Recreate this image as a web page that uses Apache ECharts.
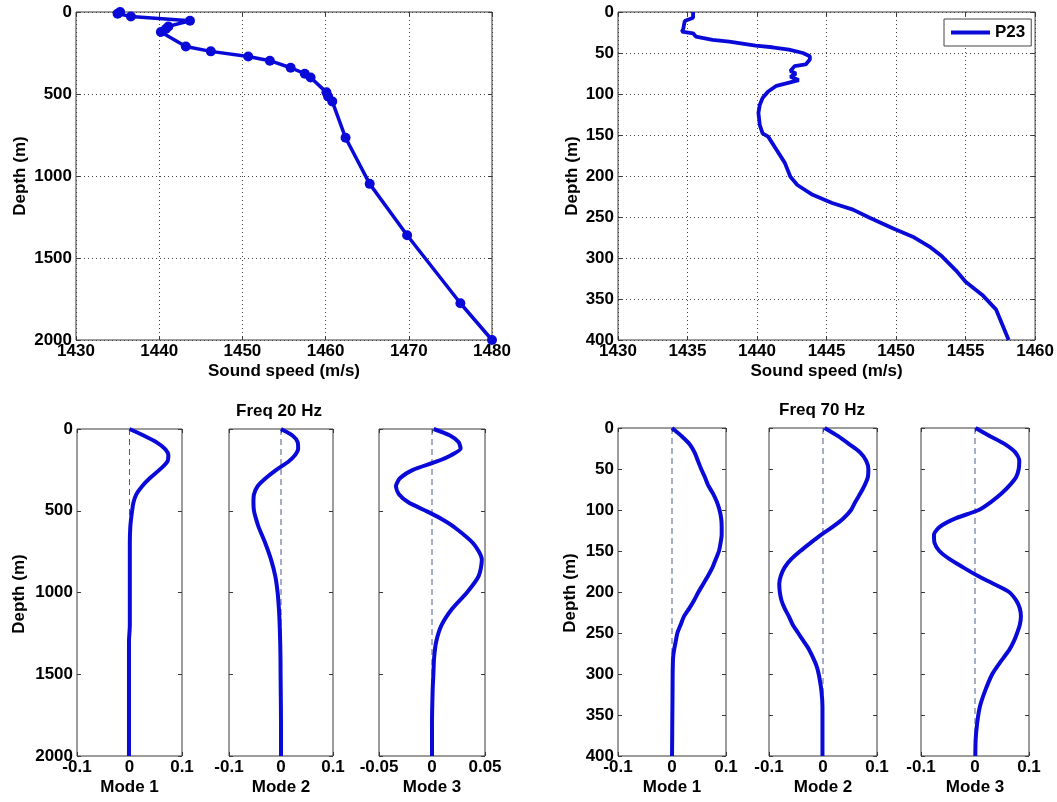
<!DOCTYPE html>
<html>
<head>
<meta charset="utf-8">
<script src="https://cdn.jsdelivr.net/npm/echarts@6/dist/echarts.min.js"></script>
<style>
  html, body { margin: 0; padding: 0; background: #fff; }
  #chart { width: 1057px; height: 802px; }
</style>
</head>
<body>
<div id="chart"></div>
<script>
// CTD sound-speed profile (full depth, with sample points)
const ctdSpeed = [1435.3, 1435.0, 1436.6, 1443.7, 1441.1, 1440.8, 1440.2, 1443.2, 1446.2, 1450.7, 1453.3,
  1455.8, 1457.5, 1458.2, 1460.1, 1460.3, 1460.8, 1462.4, 1465.3, 1469.8, 1476.2, 1480.0];
const ctdDepth = [0, 10, 27, 53, 88, 104, 122, 210, 240, 271, 297,
  340, 376, 399, 490, 515, 545, 767, 1048, 1361, 1776, 2000];

// Station P23 upper-ocean profile
const p23Speed = [1435.4, 1435.4, 1434.8, 1434.7, 1434.6, 1435.4, 1435.6, 1436.8, 1438.0, 1439.9,
  1441.1, 1442.3, 1443.3, 1443.8, 1443.8, 1443.5, 1442.7, 1442.4, 1442.8, 1442.4,
  1443.0, 1442.1, 1441.4, 1440.8, 1440.4, 1440.2, 1440.1, 1440.2, 1440.4, 1440.8,
  1441.4, 1442.0, 1442.4, 1442.9, 1444.0, 1445.4, 1446.9, 1448.1, 1449.8, 1451.2,
  1452.4, 1453.3, 1454.3, 1455.0, 1456.2, 1457.2, 1458.1];
const p23Depth = [0, 7, 11, 20, 24, 26, 30, 34, 36, 41,
  43, 46, 50, 54, 58, 64, 66, 72, 75, 79,
  83, 87, 90, 97, 105, 113, 123, 138, 148, 152,
  168, 184, 201, 211, 223, 233, 241, 251, 264, 274,
  286, 298, 315, 329, 345, 363, 400];

// Normal modes at 20 Hz
const depth20 = [0, 40, 80, 120, 160, 200, 250, 300, 350, 400, 450, 500, 550, 600, 700, 800, 900, 1000,
  1100, 1200, 1300, 1400, 1500, 1600, 1800, 2000];
const mode20_1 = [0, 0.027, 0.051, 0.067, 0.074, 0.072, 0.057, 0.039, 0.024, 0.013, 0.0075, 0.005, 0.003, 0.0015, 0.0006, 0.0006, 0.0006, 0.0006,
  0.0006, 0.0006, -0.001, -0.001, -0.001, -0.001, -0.001, -0.001];
const mode20_2 = [0, 0.022, 0.032, 0.033, 0.027, 0.014, -0.009, -0.029, -0.045, -0.052, -0.053, -0.052, -0.048, -0.043, -0.030, -0.019, -0.011, -0.0065,
  -0.004, -0.0025, -0.0016, -0.001, -0.0008, -0.0005, 0, 0];
const mode20_3 = [0.0016, 0.017, 0.025, 0.027, 0.018, 0.004, -0.018, -0.030, -0.034, -0.031, -0.022, -0.006, 0.009, 0.021, 0.039, 0.047, 0.044, 0.033,
  0.019, 0.009, 0.004, 0.002, 0.0013, 0.0006, 0, 0];

// Normal modes at 70 Hz
const depth70 = [0, 10, 20, 30, 40, 50, 60, 70, 80, 90, 100, 110, 120, 130, 140, 150, 160, 170, 180, 190, 200,
  210, 220, 230, 240, 250, 260, 270, 280, 290, 300, 320, 340, 360, 380, 400];
const mode70_1 = [0, 0.018, 0.033, 0.042, 0.048, 0.054, 0.061, 0.067, 0.076, 0.083, 0.088,
  0.091, 0.092, 0.092, 0.090, 0.087, 0.081, 0.075, 0.067, 0.058, 0.049,
  0.041, 0.032, 0.022, 0.016, 0.010, 0.007, 0.004, 0.002, 0.0015, 0.0012,
  0.001, 0.0008, 0.0005, 0.0003, 0];
const mode70_2 = [0.003, 0.028, 0.049, 0.069, 0.080, 0.084, 0.083, 0.077, 0.069, 0.060, 0.052,
  0.038, 0.019, -0.003, -0.023, -0.042, -0.059, -0.071, -0.078, -0.081, -0.080,
  -0.077, -0.071, -0.063, -0.056, -0.046, -0.036, -0.026, -0.0185, -0.012, -0.008,
  -0.003, -0.001, -0.001, -0.001, -0.001];
const mode70_3 = [0.001, 0.028, 0.056, 0.075, 0.082, 0.081, 0.076, 0.064, 0.049, 0.030, 0.007,
  -0.035, -0.064, -0.076, -0.075, -0.066, -0.047, -0.022, 0.004, 0.034, 0.063,
  0.076, 0.083, 0.085, 0.083, 0.078, 0.072, 0.064, 0.053, 0.042, 0.032,
  0.019, 0.009, 0.004, 0.0012, 0.0006];

// Tick settings
const speedTicksFull = { min: 1430, max: 1480, interval: 10 };
const speedTicksUpper = { min: 1430, max: 1460, interval: 5 };
const depthTicksFull = { min: 0, max: 2000, interval: 500 };
const depthTicksUpper = { min: 0, max: 400, interval: 50 };
const ampTicks = { min: -0.1, max: 0.1, interval: 0.1 };
const ampTicksNarrow = { min: -0.05, max: 0.05, interval: 0.05 };

const BLUE = '#0a0ad8';
const FRAME = '#3a3a3a';
const FONT = 'Liberation Sans';
const textBold = { fontFamily: FONT, fontWeight: 'bold', fontSize: 17, color: '#000' };
const plainNumber = v => String(Math.round(v * 1e6) / 1e6);

const grids = [], xAxes = [], yAxes = [], series = [];

function pairs(xs, ys) { return xs.map((x, i) => [x, ys[i]]); }

function addPanel(box, xt, yt, opt) {
  const g = grids.length;
  grids.push({ left: box[0], top: box[1], width: box[2], height: box[3], show: true,
    borderColor: FRAME, borderWidth: 1, backgroundColor: '#fff', containLabel: false });
  const tick = { show: true, inside: true, length: 4, lineStyle: { color: FRAME, width: 1 } };
  const grid = opt.grid ? { show: true, lineStyle: { color: '#444', type: [1, 3], width: 1 } } : { show: false };
  xAxes.push({ type: 'value', gridIndex: g, position: 'bottom', min: xt.min, max: xt.max, interval: xt.interval,
    axisLine: { show: false, onZero: false }, axisTick: tick, splitLine: grid,
    axisLabel: Object.assign({ margin: 3, formatter: plainNumber }, textBold),
    name: opt.xName, nameLocation: 'middle', nameGap: 23, nameTextStyle: textBold });
  xAxes.push({ type: 'value', gridIndex: g, position: 'top', min: xt.min, max: xt.max, interval: xt.interval,
    axisLine: { show: false, onZero: false }, axisTick: tick, splitLine: { show: false }, axisLabel: { show: false } });
  yAxes.push({ type: 'value', gridIndex: g, position: 'left', inverse: true, min: yt.min, max: yt.max, interval: yt.interval,
    axisLine: { show: false, onZero: false }, axisTick: tick, splitLine: grid,
    axisLabel: Object.assign({ margin: 4, show: opt.yLabels !== false, formatter: plainNumber }, textBold) });
  yAxes.push({ type: 'value', gridIndex: g, position: 'right', inverse: true, min: yt.min, max: yt.max, interval: yt.interval,
    axisLine: { show: false, onZero: false }, axisTick: tick, splitLine: { show: false }, axisLabel: { show: false } });
  return { xAxisIndex: 2 * g, yAxisIndex: 2 * g };
}

// Top row: sound-speed profiles
const a0 = addPanel([76, 12, 416, 328], speedTicksFull, depthTicksFull, { grid: true, xName: 'Sound speed (m/s)' });
series.push(Object.assign({ type: 'line', name: 'CTD', data: pairs(ctdSpeed, ctdDepth),
  symbol: 'circle', symbolSize: 10, showAllSymbol: true,
  lineStyle: { color: BLUE, width: 3.5 }, itemStyle: { color: BLUE } }, a0));

const a1 = addPanel([618, 12, 418, 328], speedTicksUpper, depthTicksUpper, { grid: true, xName: 'Sound speed (m/s)' });
series.push(Object.assign({ type: 'line', name: 'P23', data: pairs(p23Speed, p23Depth),
  symbol: 'none', lineStyle: { color: BLUE, width: 3.8 }, itemStyle: { color: BLUE } }, a1));

// Bottom row: mode shapes
function addMode(box, xt, depths, amps, label, showY) {
  const a = addPanel(box, xt, depths === depth20 ? depthTicksFull : depthTicksUpper,
    { grid: false, xName: label, yLabels: showY });
  const maxD = depths[depths.length - 1];
  series.push(Object.assign({ type: 'line', data: [[0, 0], [0, maxD]], symbol: 'none', silent: true,
    lineStyle: { color: '#4a5a92', width: 1, type: [6, 4] } }, a));
  series.push(Object.assign({ type: 'line', data: pairs(amps, depths), symbol: 'none', smooth: 0.25,
    lineStyle: { color: BLUE, width: 4 } }, a));
}

addMode([77, 429, 105, 327], ampTicks, depth20, mode20_1, 'Mode 1', true);
addMode([229, 429, 104, 327], ampTicks, depth20, mode20_2, 'Mode 2', false);
addMode([379, 429, 106, 327], ampTicksNarrow, depth20, mode20_3, 'Mode 3', false);
addMode([618, 428, 108, 328], ampTicks, depth70, mode70_1, 'Mode 1', true);
addMode([769, 428, 108, 328], ampTicks, depth70, mode70_2, 'Mode 2', false);
addMode([921, 428, 108, 328], ampTicks, depth70, mode70_3, 'Mode 3', false);

function label(text, x, y, rot) {
  return { type: 'text', x: x, y: y, rotation: rot || 0, silent: true,
    style: { text: text, fill: '#000', font: 'bold 17px "' + FONT + '"', align: 'center', verticalAlign: 'middle' } };
}

const chart = echarts.init(document.getElementById('chart'), null, { renderer: 'canvas' });
chart.setOption({
  animation: false,
  backgroundColor: '#fff',
  grid: grids,
  xAxis: xAxes,
  yAxis: yAxes,
  series: series,
  legend: {
    data: [{ name: 'P23', icon: 'rect' }], left: 944, top: 19, padding: [5, 6, 5, 7],
    itemWidth: 39, itemHeight: 4, itemGap: 0,
    itemStyle: { color: BLUE, borderWidth: 0 },
    borderColor: '#444', borderWidth: 1, backgroundColor: '#fff',
    textStyle: textBold
  },
  graphic: [
    label('Depth (m)', 20, 176, Math.PI / 2),
    label('Depth (m)', 572, 176, Math.PI / 2),
    label('Depth (m)', 19, 594, Math.PI / 2),
    label('Depth (m)', 570, 593, Math.PI / 2),
    label('Freq 20 Hz', 279, 411),
    label('Freq 70 Hz', 822, 410)
  ]
});
</script>
</body>
</html>
